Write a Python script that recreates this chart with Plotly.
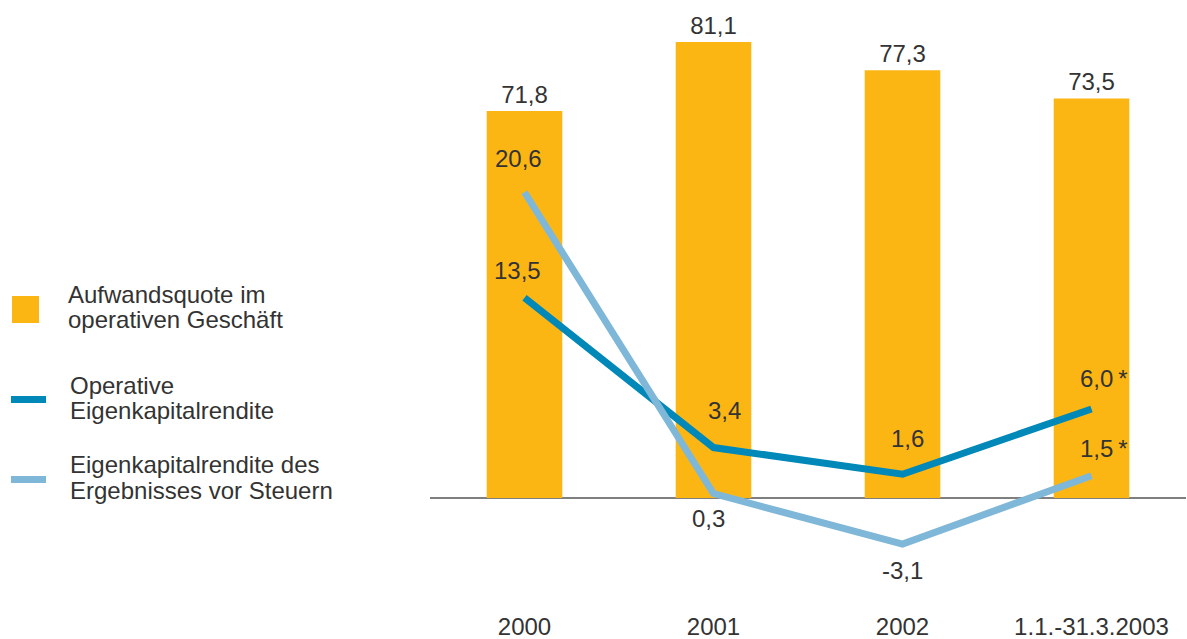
import plotly.graph_objects as go

# ---------------- data ----------------
categories = ["2000", "2001", "2002", "1.1.-31.3.2003"]
cost_ratio = [71.8, 81.1, 77.3, 73.5]          # Aufwandsquote im operativen Geschäft
operative_roe = [13.5, 3.4, 1.6, 6.0]          # Operative Eigenkapitalrendite
pretax_roe = [20.6, 0.3, -3.1, 1.5]            # Eigenkapitalrendite des Ergebnisses vor Steuern
footnote_marks = ["", "", "", "*"]

series_names = [
    "Aufwandsquote im operativen Geschäft",
    "Operative Eigenkapitalrendite",
    "Eigenkapitalrendite des Ergebnisses vor Steuern",
]

# ---------------- style ----------------
ORANGE = "#FCB614"
DARK_BLUE = "#0088B8"
LIGHT_BLUE = "#7FB7D8"
AXIS_GRAY = "#7F7F7F"
TEXT = "#333333"
FONT = "Liberation Sans, Arial, sans-serif"
FS = 24

W, H = 1187, 639
ML, MR, MT, MB = 430, 1, 10, 31

# line axis range (y2) and bar axis (y) linked: bar = 2*line + BAR_BASE
LINE_RANGE = [-7.41, 32.88]
BAR_BASE = 19.65
BAR_RANGE = [2 * LINE_RANGE[0] + BAR_BASE, 2 * LINE_RANGE[1] + BAR_BASE]

# label offsets (pixels) for the line value labels
op_offsets = [(-7, 27), (11, 37), (5, 36), (3, 30)]
pt_offsets = [(-6, 34), (-5, -25), (0, -26), (3, 27)]


def fmt(v):
    return f"{v:.1f}".replace(".", ",")


fig = go.Figure()

fig.add_trace(go.Bar(
    x=categories,
    y=[v - BAR_BASE for v in cost_ratio],
    base=BAR_BASE,
    width=0.4,
    marker=dict(color=ORANGE, line=dict(width=0)),
    name=series_names[0],
    text=[fmt(v) for v in cost_ratio],
    textposition="outside",
    textfont=dict(family=FONT, size=FS, color=TEXT),
    cliponaxis=False,
    constraintext="none",
    yaxis="y",
    hoverinfo="skip",
))

fig.add_trace(go.Scatter(
    x=categories, y=operative_roe, mode="lines",
    line=dict(color=DARK_BLUE, width=7),
    name=series_names[1], yaxis="y2", hoverinfo="skip",
))
fig.add_trace(go.Scatter(
    x=categories, y=pretax_roe, mode="lines",
    line=dict(color=LIGHT_BLUE, width=7),
    name=series_names[2], yaxis="y2", hoverinfo="skip",
))

annotations = []
for vals, offs in ((operative_roe, op_offsets), (pretax_roe, pt_offsets)):
    for i, (v, mark, (dx, dy)) in enumerate(zip(vals, footnote_marks, offs)):
        # x given as category index (category names look numeric)
        if mark:
            annotations.append(dict(
                x=i, y=v, xref="x", yref="y2", text=fmt(v) + "\u2009" + mark,
                showarrow=False, xanchor="left", yanchor="middle",
                xshift=dx - 17, yshift=dy,
                font=dict(family=FONT, size=FS, color=TEXT),
            ))
        else:
            annotations.append(dict(
                x=i, y=v, xref="x", yref="y2", text=fmt(v),
                showarrow=False, xanchor="center", yanchor="middle",
                xshift=dx, yshift=dy,
                font=dict(family=FONT, size=FS, color=TEXT),
            ))

# ---------------- manual legend (pixel placement converted to paper) ----------------
PW = W - ML - MR
PH = H - MT - MB


def px_x(x):
    return (x - ML) / PW


def px_y(y):
    return 1 - (y - MT) / PH


shapes = [
    dict(type="rect", xref="paper", yref="paper",
         x0=px_x(12), x1=px_x(39), y0=px_y(323), y1=px_y(296),
         fillcolor=ORANGE, line=dict(width=0)),
    dict(type="line", xref="paper", yref="paper",
         x0=px_x(11), x1=px_x(46), y0=px_y(399.5), y1=px_y(399.5),
         line=dict(color=DARK_BLUE, width=7)),
    dict(type="line", xref="paper", yref="paper",
         x0=px_x(11), x1=px_x(46), y0=px_y(479.5), y1=px_y(479.5),
         line=dict(color=LIGHT_BLUE, width=7)),
]

legend_lines = [
    (66, 294, "Aufwandsquote im"),
    (66, 319.5, "operativen Geschäft"),
    (68, 385, "Operative"),
    (68, 410.5, "Eigenkapitalrendite"),
    (68, 464.5, "Eigenkapitalrendite des"),
    (68, 490, "Ergebnisses vor Steuern"),
]
for lx, ly, txt in legend_lines:
    annotations.append(dict(
        x=px_x(lx), y=px_y(ly), xref="paper", yref="paper", text=txt,
        showarrow=False, xanchor="left", yanchor="middle",
        font=dict(family=FONT, size=FS, color=TEXT),
    ))

fig.update_layout(
    template="none",
    width=W, height=H,
    margin=dict(l=ML, r=MR, t=MT, b=MB, pad=0),
    paper_bgcolor="white", plot_bgcolor="white",
    showlegend=False,
    font=dict(family=FONT, size=FS, color=TEXT),
    xaxis=dict(
        type="category", range=[-0.5, 3.5], showgrid=False, showline=False,
        zeroline=False, ticks="", automargin=False, ticklabelstandoff=2,
        tickfont=dict(family=FONT, size=FS, color=TEXT),
    ),
    yaxis=dict(
        range=BAR_RANGE, showgrid=False, showline=False, zeroline=False,
        showticklabels=False, ticks="", automargin=False,
    ),
    yaxis2=dict(
        range=LINE_RANGE, overlaying="y", side="left", showgrid=False,
        showline=False, zeroline=True, zerolinecolor=AXIS_GRAY, zerolinewidth=1.5,
        showticklabels=False, ticks="", automargin=False,
    ),
    shapes=shapes,
    annotations=annotations,
)

fig.write_html(
    "out.html",
    config={"displayModeBar": False},
    post_script="document.body.style.margin='0';document.body.style.overflow='hidden';",
)
